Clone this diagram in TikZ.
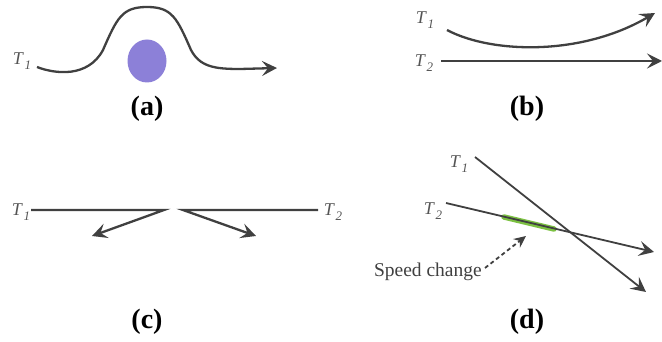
\documentclass[tikz,border=0pt]{standalone}
\usepackage{fontspec}
\setmainfont{Liberation Serif}
\usetikzlibrary{arrows.meta,shapes.geometric}
\definecolor{ln}{HTML}{404040}
\definecolor{lbl}{HTML}{555555}
\definecolor{blob}{HTML}{8C80D8}
\definecolor{grn}{HTML}{7CC142}
\tikzset{
  track/.style={draw=ln, line width=2.3pt, -{Stealth[length=15pt,width=15pt,inset=6pt]}},
  trackd/.style={draw=ln, line width=1.8pt, -{Stealth[length=15pt,width=15pt,inset=6pt]}},
  tlabel/.style={text=lbl, inner sep=0pt, font=\fontsize{18}{20}\selectfont},
  panel/.style={inner sep=0pt, font=\fontsize{28}{30}\selectfont\bfseries},
}
\newcommand{\Tlab}[1]{\textit{T}\kern0.5pt\raisebox{-0.32em}{\fontsize{13}{13}\selectfont\textit{#1}}}
\begin{document}
\begin{tikzpicture}[x=1pt,y=-1pt]
\useasboundingbox (0,0) rectangle (662,342);
% ---- (a)
\node[fill=blob, ellipse, minimum width=39pt, minimum height=43pt, inner sep=0pt] (obs) at (147,61) {};
\node[tlabel] (a1) at (22,61) {\Tlab{1}};
\coordinate (as) at (37,67);
\coordinate (ae) at (277,68);
\draw[track] (as) .. controls (55,74) and (88,78) .. (103,50)
  .. controls (117,18) and (122,7) .. (147,7)
  .. controls (172,7) and (177,18) .. (191,50)
  .. controls (200,67) and (215,69) .. (240,69) -- (ae);
\node[panel] (pa) at (147,109) {(a)};
% ---- (b)
\node[tlabel] (b1) at (425,20) {\Tlab{1}};
\node[tlabel] (b2) at (424,63) {\Tlab{2}};
\coordinate (b1s) at (447,30);
\coordinate (b1e) at (655,13);
\coordinate (b2s) at (441,61);
\coordinate (b2e) at (662,61);
\draw[track] (b1s) .. controls (490,53) and (580,57) .. (b1e);
\draw[track] (b2s) -- (b2e);
\node[panel] (pb) at (527,109) {(b)};
% ---- (c)
\node[tlabel] (c1) at (21,212) {\Tlab{1}};
\node[tlabel] (c2) at (333,212) {\Tlab{2}};
\coordinate (c1s) at (31,210);
\coordinate (c1m) at (164,210);
\coordinate (c1e) at (92,236);
\coordinate (c2s) at (318,210);
\coordinate (c2m) at (183,210);
\coordinate (c2e) at (256,236);
\draw[track] (c1s) -- (c1m) -- (c1e);
\draw[track] (c2s) -- (c2m) -- (c2e);
\node[panel] (pc) at (147,322) {(c)};
% ---- (d)
\node[tlabel] (d1) at (459,164) {\Tlab{1}};
\node[tlabel] (d2) at (433,211) {\Tlab{2}};
\coordinate (gs) at (504,217);
\coordinate (ge) at (554,229);
\draw[grn, line width=5.5pt, line cap=round] (gs) -- (ge);
\coordinate (d1s) at (475,157);
\coordinate (d1e) at (646,292);
\coordinate (d2s) at (446,203);
\coordinate (d2e) at (654,252);
\draw[trackd] (d1s) -- (d1e);
\draw[trackd] (d2s) -- (d2e);
\node[inner sep=0pt, anchor=east, font=\fontsize{19.5}{22}\selectfont, text=ln] (sc) at (482,272) {Speed change};
\coordinate (scs) at (485,268);
\coordinate (sce) at (526,236);
\draw[ln, line width=1.8pt, dash pattern=on 4pt off 3pt, -{Stealth[length=12pt,width=11pt,inset=4pt]}] (scs) -- (sce);
\node[panel] (pd) at (527,322) {(d)};
\end{tikzpicture}
\end{document}
